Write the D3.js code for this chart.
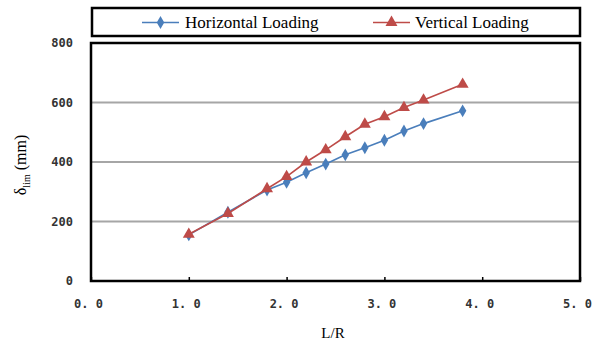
<!DOCTYPE html>
<html>
<head>
<meta charset="utf-8">
<script src="https://cdn.jsdelivr.net/npm/d3@7"></script>
<style>
  body { margin: 0; background: #fff; }
  svg { display: block; }
</style>
</head>
<body>
<div id="chart"></div>
<script>
// L/R ratios and limit displacement (mm)
const ratios = [1.0, 1.4, 1.8, 2.0, 2.2, 2.4, 2.6, 2.8, 3.0, 3.2, 3.4, 3.8];
const horizontal = [155, 231, 306, 332, 364, 393, 424, 448, 473, 504, 529, 572];
const vertical = [157, 227, 310, 351, 400, 441, 485, 527, 552, 583, 608, 661];
const xTicks = [0, 1, 2, 3, 4, 5];
const yTicks = [0, 200, 400, 600, 800];
const seriesNames = ["Horizontal Loading", "Vertical Loading"];

const width = 602;
const height = 354;
const margin = { top: 43, right: 22, bottom: 73, left: 91 };

const svg = d3.select("#chart")
  .append("svg")
  .attr("width", width)
  .attr("height", height);

const x = d3.scaleLinear().domain([0, 5]).range([margin.left, width - margin.right]);
const y = d3.scaleLinear().domain([0, 800]).range([height - margin.bottom, margin.top]);

const tickFont = "'DejaVu Sans Mono', monospace";
const serif = "'Liberation Serif', 'Times New Roman', serif";

// gridlines
svg.append("g")
  .selectAll("line")
  .data(yTicks.filter(d => d > 0 && d < 800))
  .join("line")
  .attr("x1", x(0)).attr("x2", x(5))
  .attr("y1", d => y(d)).attr("y2", d => y(d))
  .attr("stroke", "#a6a6a6")
  .attr("stroke-width", 2);

// x axis ticks (inside)
const xAxis = svg.append("g")
  .attr("transform", `translate(0,${y(0)})`)
  .call(d3.axisBottom(x).tickValues(xTicks).tickSizeInner(-4).tickSizeOuter(0)
    .tickFormat(d => d3.format(".1f")(d).replace(".", ". ")));
xAxis.select(".domain").remove();
xAxis.selectAll(".tick line").attr("stroke", "#000").attr("stroke-width", 1.5);
xAxis.selectAll("text")
  .attr("y", 18)
  .attr("dx", -3)
  .attr("font-family", tickFont)
  .attr("font-size", 12)
  .attr("font-weight", "bold")
  .attr("fill", "#333");

// y axis labels
const yAxis = svg.append("g")
  .attr("transform", `translate(${x(0)},0)`)
  .call(d3.axisLeft(y).tickValues(yTicks).tickSize(0).tickPadding(18));
yAxis.select(".domain").remove();
yAxis.selectAll("text")
  .attr("font-family", tickFont)
  .attr("font-size", 12)
  .attr("font-weight", "bold")
  .attr("fill", "#333");

// plot frame
svg.append("rect")
  .attr("x", x(0)).attr("y", y(800))
  .attr("width", x(5) - x(0)).attr("height", y(0) - y(800))
  .attr("fill", "none")
  .attr("stroke", "#000")
  .attr("stroke-width", 2.5);

const series = [
  { name: seriesNames[0], values: horizontal, color: "#4a7ebb", symbol: d3.symbolDiamond, size: 48 },
  { name: seriesNames[1], values: vertical, color: "#be4b48", symbol: d3.symbolTriangle, size: 62 }
];

const line = d3.line().x((d, i) => x(ratios[i])).y(d => y(d));

series.forEach(s => {
  svg.append("path")
    .datum(s.values)
    .attr("fill", "none")
    .attr("stroke", s.color)
    .attr("stroke-width", 1.6)
    .attr("d", line);
  svg.append("g")
    .selectAll("path")
    .data(s.values)
    .join("path")
    .attr("transform", (d, i) => `translate(${x(ratios[i])},${y(d)})`)
    .attr("d", d3.symbol().type(s.symbol).size(s.size))
    .attr("fill", s.color);
});

// legend
svg.append("rect")
  .attr("x", 92).attr("y", 8)
  .attr("width", 488).attr("height", 28)
  .attr("fill", "#fff")
  .attr("stroke", "#000")
  .attr("stroke-width", 2.5);

const legendPos = [{ x1: 142, x2: 179, tx: 185 }, { x1: 373, x2: 410, tx: 415 }];
series.forEach((s, i) => {
  const p = legendPos[i];
  const g = svg.append("g");
  g.append("line")
    .attr("x1", p.x1).attr("x2", p.x2).attr("y1", 22.5).attr("y2", 22.5)
    .attr("stroke", s.color).attr("stroke-width", 1.6);
  g.append("path")
    .attr("transform", `translate(${(p.x1 + p.x2) / 2},22.5)`)
    .attr("d", d3.symbol().type(s.symbol).size(s.size))
    .attr("fill", s.color);
  g.append("text")
    .attr("x", p.tx).attr("y", 28)
    .attr("font-family", serif)
    .attr("font-size", 17)
    .attr("fill", "#000")
    .text(s.name);
});

// axis titles
svg.append("text")
  .attr("x", 333).attr("y", 338)
  .attr("text-anchor", "middle")
  .attr("font-family", serif)
  .attr("font-size", 15)
  .text("L/R");

const yTitle = svg.append("text")
  .attr("transform", `translate(26,${y(390)}) rotate(-90)`)
  .attr("text-anchor", "middle")
  .attr("font-family", serif)
  .attr("font-size", 16);
yTitle.append("tspan").text("δ");
yTitle.append("tspan").attr("font-size", 10).attr("dy", 4).text("lim");
yTitle.append("tspan").attr("dy", -4).text(" (mm)");
</script>
</body>
</html>
